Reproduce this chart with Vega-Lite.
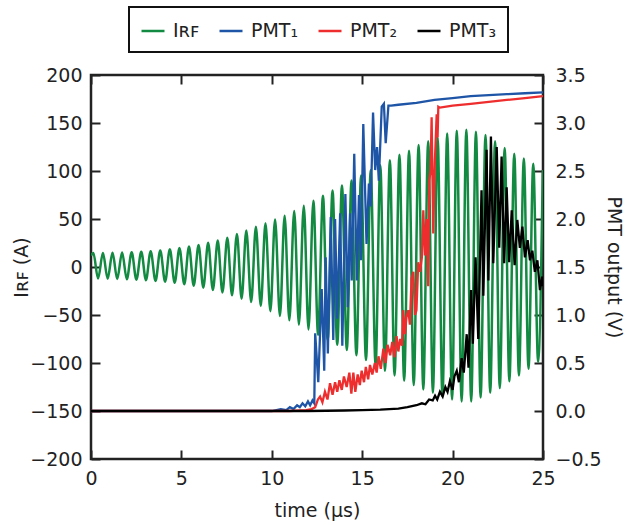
{
  "$schema": "https://vega.github.io/schema/vega-lite/v6.json",
  "width": 452,
  "height": 384,
  "autosize": {"type": "none"},
  "padding": {"left": 91, "top": 75, "right": 83, "bottom": 66},
  "background": "white",
  "datasets": {
    "rf": [
      {"t":0,"I":12},{"t":0.13,"I":14.5},{"t":0.39,"I":-12},{"t":0.66,"I":14.5},{"t":0.92,"I":-12.2},{"t":1.19,"I":14.8},{"t":1.45,"I":-12.4},{"t":1.72,"I":15},{"t":1.98,"I":-12.7},{"t":2.25,"I":15.3},{"t":2.51,"I":-13.2},{"t":2.78,"I":15.8},{"t":3.04,"I":-13.7},{"t":3.3,"I":16.5},{"t":3.57,"I":-14.5},{"t":3.83,"I":17.2},{"t":4.1,"I":-15.3},{"t":4.36,"I":18.4},{"t":4.63,"I":-16.5},{"t":4.89,"I":19.7},{"t":5.16,"I":-18},{"t":5.42,"I":21.3},{"t":5.68,"I":-19.5},{"t":5.95,"I":22.8},{"t":6.21,"I":-21.5},{"t":6.48,"I":25.2},{"t":6.74,"I":-24},{"t":7.01,"I":27.5},{"t":7.27,"I":-26.5},{"t":7.54,"I":30.5},{"t":7.8,"I":-29.5},{"t":8.07,"I":34.5},{"t":8.33,"I":-33},{"t":8.59,"I":38},{"t":8.86,"I":-36.5},{"t":9.12,"I":42},{"t":9.39,"I":-40.5},{"t":9.65,"I":45.5},{"t":9.92,"I":-46},{"t":10.18,"I":49.6},{"t":10.45,"I":-51},{"t":10.71,"I":53.5},{"t":10.97,"I":-55.5},{"t":11.24,"I":58.4},{"t":11.5,"I":-60},{"t":11.77,"I":63.7},{"t":12.03,"I":-65},{"t":12.3,"I":69},{"t":12.56,"I":-70.5},{"t":12.83,"I":74.3},{"t":13.09,"I":-76},{"t":13.36,"I":79.6},{"t":13.62,"I":-81},{"t":13.88,"I":84.8},{"t":14.15,"I":-86.5},{"t":14.41,"I":90.1},{"t":14.68,"I":-92},{"t":14.94,"I":95.4},{"t":15.21,"I":-97},{"t":15.47,"I":100.7},{"t":15.74,"I":-102.5},{"t":16.0,"I":106},{"t":16.26,"I":-108},{"t":16.53,"I":111.3},{"t":16.79,"I":-113},{"t":17.06,"I":117},{"t":17.32,"I":-118.5},{"t":17.59,"I":121},{"t":17.85,"I":-123},{"t":18.12,"I":127},{"t":18.38,"I":-127.5},{"t":18.65,"I":131},{"t":18.91,"I":-131},{"t":19.17,"I":135},{"t":19.44,"I":-135},{"t":19.7,"I":139},{"t":19.97,"I":-138},{"t":20.23,"I":142},{"t":20.5,"I":-140},{"t":20.76,"I":143},{"t":21.03,"I":-140},{"t":21.29,"I":141},{"t":21.55,"I":-136},{"t":21.82,"I":137.5},{"t":22.08,"I":-131},{"t":22.35,"I":131},{"t":22.61,"I":-126},{"t":22.88,"I":124},{"t":23.14,"I":-119},{"t":23.41,"I":118},{"t":23.67,"I":-113},{"t":23.94,"I":113},{"t":24.2,"I":-106},{"t":24.46,"I":107.5},{"t":24.73,"I":-99},{"t":24.99,"I":101}
    ],
    "pmt1": [
      {"t":0,"v":0},{"t":10,"v":0},{"t":10.5,"v":0.02},{"t":10.8,"v":0.01},{"t":11.0,"v":0.04},{"t":11.2,"v":0.02},{"t":11.4,"v":0.06},{"t":11.55,"v":0.04},{"t":11.7,"v":0.08},{"t":11.85,"v":0.05},{"t":12.0,"v":0.1},{"t":12.12,"v":0.06},{"t":12.25,"v":0.11},{"t":12.35,"v":0.08},{"t":12.4,"v":0.81},{"t":12.57,"v":0.3},{"t":12.76,"v":1.27},{"t":12.9,"v":0.42},{"t":12.98,"v":1.6},{"t":13.1,"v":0.6},{"t":13.26,"v":2.02},{"t":13.4,"v":0.74},{"t":13.5,"v":2.0},{"t":13.62,"v":0.96},{"t":13.78,"v":2.06},{"t":13.9,"v":0.68},{"t":14.07,"v":2.26},{"t":14.2,"v":1.08},{"t":14.33,"v":2.06},{"t":14.42,"v":1.36},{"t":14.56,"v":2.68},{"t":14.7,"v":1.36},{"t":14.82,"v":2.25},{"t":14.93,"v":1.57},{"t":15.06,"v":2.99},{"t":15.24,"v":1.74},{"t":15.37,"v":2.37},{"t":15.47,"v":2.13},{"t":15.6,"v":3.11},{"t":15.72,"v":2.51},{"t":15.82,"v":2.75},{"t":15.92,"v":2.4},{"t":16.08,"v":3.17},{"t":16.2,"v":3.2},{"t":16.3,"v":2.79},{"t":16.45,"v":3.18},{"t":16.6,"v":3.18},{"t":17,"v":3.19},{"t":18,"v":3.21},{"t":19,"v":3.24},{"t":20,"v":3.26},{"t":21,"v":3.28},{"t":22,"v":3.29},{"t":23,"v":3.3},{"t":24,"v":3.31},{"t":25,"v":3.32}
    ],
    "pmt2": [
      {"t":0,"v":0},{"t":11,"v":0},{"t":11.9,"v":0.01},{"t":12.2,"v":0.02},{"t":12.4,"v":0.04},{"t":12.55,"v":0.12},{"t":12.67,"v":0.15},{"t":12.8,"v":0.09},{"t":12.94,"v":0.2},{"t":13.08,"v":0.12},{"t":13.22,"v":0.29},{"t":13.36,"v":0.17},{"t":13.5,"v":0.3},{"t":13.62,"v":0.2},{"t":13.74,"v":0.32},{"t":13.87,"v":0.22},{"t":13.99,"v":0.36},{"t":14.14,"v":0.25},{"t":14.29,"v":0.4},{"t":14.4,"v":0.18},{"t":14.51,"v":0.4},{"t":14.62,"v":0.2},{"t":14.75,"v":0.38},{"t":14.87,"v":0.27},{"t":14.97,"v":0.42},{"t":15.1,"v":0.3},{"t":15.2,"v":0.46},{"t":15.33,"v":0.33},{"t":15.43,"v":0.48},{"t":15.56,"v":0.38},{"t":15.7,"v":0.5},{"t":15.8,"v":0.4},{"t":15.9,"v":0.57},{"t":16.03,"v":0.44},{"t":16.17,"v":0.65},{"t":16.3,"v":0.5},{"t":16.4,"v":0.69},{"t":16.55,"v":0.58},{"t":16.66,"v":0.72},{"t":16.78,"v":0.56},{"t":16.9,"v":0.78},{"t":17.0,"v":0.62},{"t":17.1,"v":0.75},{"t":17.2,"v":0.68},{"t":17.27,"v":1.05},{"t":17.36,"v":0.8},{"t":17.45,"v":0.98},{"t":17.55,"v":1.05},{"t":17.64,"v":0.9},{"t":17.73,"v":1.38},{"t":17.83,"v":1.45},{"t":17.92,"v":1.0},{"t":18.0,"v":1.05},{"t":18.1,"v":1.55},{"t":18.2,"v":1.45},{"t":18.3,"v":1.6},{"t":18.38,"v":2.09},{"t":18.47,"v":1.62},{"t":18.57,"v":2.0},{"t":18.65,"v":1.3},{"t":18.71,"v":2.4},{"t":18.78,"v":2.5},{"t":18.84,"v":3.06},{"t":18.93,"v":1.85},{"t":19.02,"v":2.6},{"t":19.12,"v":3.09},{"t":19.17,"v":2.85},{"t":19.21,"v":3.17},{"t":19.3,"v":3.16},{"t":20,"v":3.18},{"t":21,"v":3.2},{"t":22,"v":3.22},{"t":23,"v":3.24},{"t":24,"v":3.26},{"t":25,"v":3.28}
    ],
    "pmt3": [
      {"t":0,"v":0},{"t":12,"v":0},{"t":14,"v":0.005},{"t":15,"v":0.01},{"t":16,"v":0.015},{"t":17,"v":0.025},{"t":17.5,"v":0.04},{"t":18.0,"v":0.06},{"t":18.3,"v":0.08},{"t":18.5,"v":0.07},{"t":18.7,"v":0.12},{"t":18.9,"v":0.11},{"t":19.03,"v":0.16},{"t":19.15,"v":0.12},{"t":19.3,"v":0.2},{"t":19.45,"v":0.15},{"t":19.6,"v":0.25},{"t":19.72,"v":0.2},{"t":19.85,"v":0.31},{"t":20.0,"v":0.22},{"t":20.1,"v":0.36},{"t":20.23,"v":0.42},{"t":20.35,"v":0.3},{"t":20.5,"v":0.55},{"t":20.62,"v":0.4},{"t":20.78,"v":0.8},{"t":20.88,"v":0.45},{"t":21.02,"v":1.26},{"t":21.12,"v":0.7},{"t":21.27,"v":1.6},{"t":21.42,"v":0.75},{"t":21.6,"v":2.3},{"t":21.7,"v":1.2},{"t":21.88,"v":2.72},{"t":21.98,"v":1.36},{"t":22.12,"v":2.86},{"t":22.25,"v":1.54},{"t":22.44,"v":2.75},{"t":22.58,"v":1.7},{"t":22.71,"v":2.65},{"t":22.85,"v":1.54},{"t":22.99,"v":2.33},{"t":23.13,"v":1.55},{"t":23.27,"v":2.09},{"t":23.43,"v":1.52},{"t":23.58,"v":1.99},{"t":23.72,"v":1.7},{"t":23.86,"v":1.92},{"t":24.0,"v":1.6},{"t":24.15,"v":1.78},{"t":24.28,"v":1.57},{"t":24.41,"v":1.67},{"t":24.55,"v":1.45},{"t":24.69,"v":1.57},{"t":24.83,"v":1.26},{"t":24.95,"v":1.4},{"t":25.0,"v":1.3}
    ]
  },
  "layer": [
    {
      "data": {"name": "rf"},
      "mark": {"type": "line", "interpolate": "monotone", "strokeWidth": 2.5, "clip": true},
      "encoding": {
        "x": {"field": "t", "type": "quantitative", "scale": {"domain": [0, 25], "nice": false},
              "axis": {"orient": "bottom", "values": [0,5,10,15,20,25], "title": "time (μs)", "titlePadding": 13, "labelPadding": 10, "labelFlush": false, "tickColor": "#222222", "tickWidth": 2, "tickSize": 9}},
        "y": {"field": "I", "type": "quantitative", "scale": {"domain": [-200, 200], "nice": false},
              "axis": {"values": [-200,-150,-100,-50,0,50,100,150,200], "title": "Iʀꜰ (A)", "titlePadding": -2, "labelPadding": 9, "tickColor": "#222222", "tickWidth": 2, "tickSize": 9}},
        "color": {"datum": "I_RF", "type": "nominal",
                  "scale": {"domain": ["I_RF","PMT1","PMT2","PMT3"], "range": ["#138a42","#1f55a6","#ee2e2e","#000000"]},
                  "legend": {"orient": "none", "legendX": 38, "legendY": -68, "direction": "horizontal", "title": null,
                             "symbolType": "stroke", "symbolSize": 529, "symbolStrokeWidth": 2.5, "labelOffset": 7,
                             "labelFontSize": 19, "labelColor": "#222", "padding": 11, "columnPadding": 14,
                             "strokeColor": "#111",
                             "labelExpr": "datum.label == 'I_RF' ? 'Iʀꜰ' : datum.label == 'PMT1' ? 'PMT₁' : datum.label == 'PMT2' ? 'PMT₂' : 'PMT₃'"}}
      }
    },
    {
      "layer": [
        {
          "data": {"name": "pmt1"},
          "mark": {"type": "line", "strokeWidth": 2.3, "clip": true},
          "encoding": {
            "x": {"field": "t", "type": "quantitative", "axis": {"orient": "top", "values": [0,5,10,15,20,25], "labels": false, "title": null, "tickColor": "#222222", "tickWidth": 2, "tickSize": 9}},
            "y": {"field": "v", "type": "quantitative", "scale": {"domain": [-0.5, 3.5], "nice": false},
                  "axis": {"orient": "right", "values": [-0.5,0,0.5,1,1.5,2,2.5,3,3.5], "format": ".1f", "title": "PMT output (V)", "labelPadding": 12, "titlePadding": 2, "tickColor": "#222222", "tickWidth": 2, "tickSize": 9}},
            "color": {"datum": "PMT1", "type": "nominal"}
          }
        },
        {
          "data": {"name": "pmt2"},
          "mark": {"type": "line", "strokeWidth": 2.3, "clip": true},
          "encoding": {
            "x": {"field": "t", "type": "quantitative"},
            "y": {"field": "v", "type": "quantitative"},
            "color": {"datum": "PMT2", "type": "nominal"}
          }
        },
        {
          "data": {"name": "pmt3"},
          "mark": {"type": "line", "strokeWidth": 2.3, "clip": true},
          "encoding": {
            "x": {"field": "t", "type": "quantitative"},
            "y": {"field": "v", "type": "quantitative"},
            "color": {"datum": "PMT3", "type": "nominal"}
          }
        }
      ]
    }
  ],
  "resolve": {"scale": {"y": "independent"}, "axis": {"x": "independent"}},
  "config": {
    "font": "DejaVu Sans",
    "view": {"stroke": "#222", "strokeWidth": 2.5},
    "legend": {"strokeWidth": 2},
    "axis": {"grid": false, "domain": false, "offset": -9, "ticks": true, "tickSize": 9,
             "labelFontSize": 19, "labelColor": "#222",
             "titleFontSize": 19, "titleFontWeight": "normal", "titleColor": "#222"}
  }
}
